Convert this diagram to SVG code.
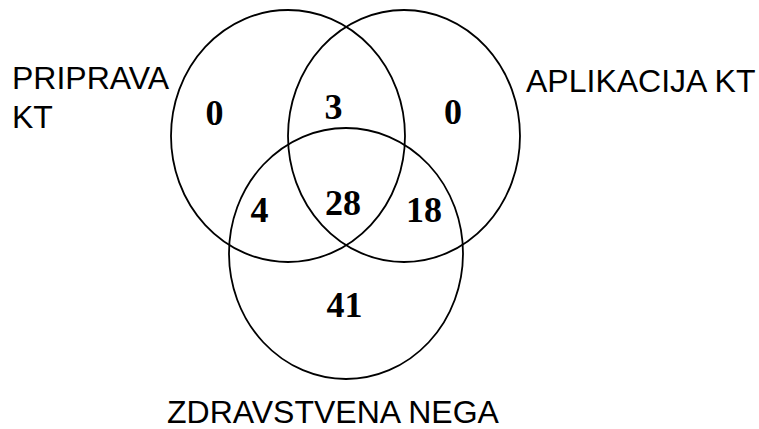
<svg xmlns="http://www.w3.org/2000/svg" width="759" height="429" viewBox="0 0 759 429">
  <style>
    .set { fill: none; stroke: #000; stroke-width: 1.8; }
    .label { font-family: "Liberation Sans", Arial, sans-serif; font-size: 32px; fill: #000; }
    .count { font-family: "Liberation Serif", "Times New Roman", serif; font-weight: bold; font-size: 36px; fill: #000; text-anchor: middle; }
  </style>
  <rect width="759" height="429" fill="#fff"/>

  <!-- set outlines -->
  <g id="set-priprava">
    <ellipse class="set" cx="288" cy="136" rx="117" ry="126"/>
    <text class="label" x="12" y="89">PRIPRAVA</text>
    <text class="label" x="12" y="128">KT</text>
  </g>
  <g id="set-aplikacija">
    <ellipse class="set" cx="404" cy="136" rx="116" ry="126"/>
    <text class="label" x="526" y="92">APLIKACIJA KT</text>
  </g>
  <g id="set-zdravstvena">
    <ellipse class="set" cx="346" cy="253.5" rx="117" ry="125.5"/>
    <text class="label" x="167" y="423">ZDRAVSTVENA NEGA</text>
  </g>

  <!-- region counts -->
  <g id="counts">
    <text class="count" x="214.5" y="125">0</text>
    <text class="count" x="333.5" y="119">3</text>
    <text class="count" x="453" y="124">0</text>
    <text class="count" x="259.5" y="222">4</text>
    <text class="count" x="343" y="215">28</text>
    <text class="count" x="424" y="222">18</text>
    <text class="count" x="344.5" y="317">41</text>
  </g>
</svg>
